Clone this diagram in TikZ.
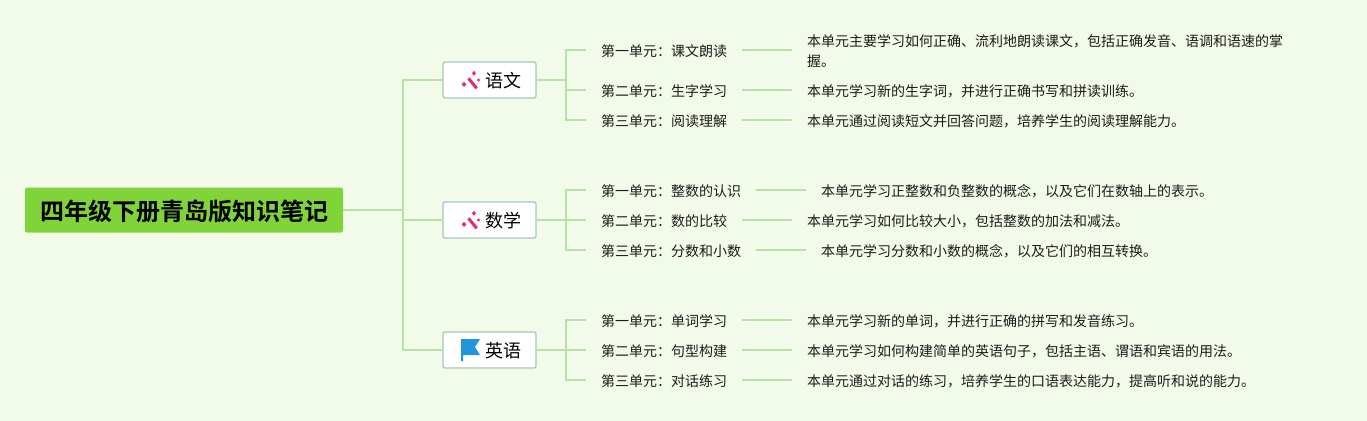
\documentclass[tikz,border=0pt]{standalone}
\usepackage{fontspec}
\setmainfont{Noto Sans CJK SC}
\newfontfamily\cjkbold{Noto Sans CJK SC Bold}
\definecolor{bgc}{HTML}{F2FBE9}
\definecolor{linec}{HTML}{B5E3A6}
\definecolor{rootc}{HTML}{80D43A}
\definecolor{boxline}{HTML}{A4C9BC}
\definecolor{wandc}{HTML}{E8286F}
\definecolor{flagc}{HTML}{2196DD}
\definecolor{txtc}{HTML}{1C1C1C}
\tikzset{
 conn/.style={draw=linec,line width=1.7pt},
 rootbox/.style={fill=rootc,rounded corners=2pt,minimum width=318pt,minimum height=45pt,inner sep=0pt,text height=21.2pt,text depth=0pt,font=\cjkbold\fontsize{24}{28}\selectfont,text=black},
 subject/.style={draw=boxline,line width=1.3pt,fill=white,rounded corners=2pt,minimum width=93pt,minimum height=36pt,inner sep=0pt,text height=15.8pt,text depth=0pt,font=\fontsize{18}{22}\selectfont,text=black},
 unit/.style={anchor=west,inner xsep=15pt,inner ysep=0pt,text height=13pt,text depth=0pt,font=\fontsize{14}{20}\selectfont,text=txtc},
 detail/.style={anchor=west,inner xsep=15pt,inner ysep=0pt,align=left,font=\fontsize{14}{20}\selectfont,text=txtc},
}
\begin{document}
\begin{tikzpicture}[x=1pt,y=-1pt]
\useasboundingbox (0,0) rectangle (1367,420);
\fill[bgc] (-3,-3) rectangle (1370,423);
% nodes
\node[rootbox] (root) at (184,210) {四年级下册青岛版知识笔记};
\node[subject] (yw) at (489.5,80) {\hspace*{27pt}语文};
\node[subject] (sx) at (489.5,220) {\hspace*{27pt}数学};
\node[subject] (yy) at (489.5,350) {\hspace*{27pt}英语};
\coordinate (trunk) at (403,210);
\coordinate (ywhub) at (566,80);
\coordinate (sxhub) at (566,220);
\coordinate (yyhub) at (566,350);
% units
\node[unit] (a1) at (586,50) {第一单元：课文朗读};
\node[unit] (a2) at (586,90) {第二单元：生字学习};
\node[unit] (a3) at (586,120) {第三单元：阅读理解};
\node[unit] (b1) at (586,190) {第一单元：整数的认识};
\node[unit] (b2) at (586,220) {第二单元：数的比较};
\node[unit] (b3) at (586,250) {第三单元：分数和小数};
\node[unit] (c1) at (586,320) {第一单元：单词学习};
\node[unit] (c2) at (586,350) {第二单元：句型构建};
\node[unit] (c3) at (586,380) {第三单元：对话练习};
% details
\node[detail] (d1) at (792,51.5) {本单元主要学习如何正确、流利地朗读课文，包括正确发音、语调和语速的掌\\握。};
\node[detail] (d2) at (792,91.5) {本单元学习新的生字词，并进行正确书写和拼读训练。};
\node[detail] (d3) at (792,121.5) {本单元通过阅读短文并回答问题，培养学生的阅读理解能力。};
\node[detail] (e1) at (806,191.5) {本单元学习正整数和负整数的概念，以及它们在数轴上的表示。};
\node[detail] (e2) at (792,221.5) {本单元学习如何比较大小，包括整数的加法和减法。};
\node[detail] (e3) at (806,251.5) {本单元学习分数和小数的概念，以及它们的相互转换。};
\node[detail] (f1) at (792,321.5) {本单元学习新的单词，并进行正确的拼写和发音练习。};
\node[detail] (f2) at (792,351.5) {本单元学习如何构建简单的英语句子，包括主语、谓语和宾语的用法。};
\node[detail] (f3) at (792,381.5) {本单元通过对话的练习，培养学生的口语表达能力，提高听和说的能力。};
% connectors
\draw[conn] (root.east) -- (trunk);
\draw[conn] (trunk) |- (yw.west);
\draw[conn] (trunk) |- (sx.west);
\draw[conn] (trunk) |- (yy.west);
\draw[conn] (yw.east) -- (ywhub);
\draw[conn] (sx.east) -- (sxhub);
\draw[conn] (yy.east) -- (yyhub);
\foreach \h/\n in {ywhub/a1,ywhub/a2,ywhub/a3,sxhub/b1,sxhub/b2,sxhub/b3,yyhub/c1,yyhub/c2,yyhub/c3}{
 \draw[conn] (\h) |- (\n.west);
}
\foreach \u/\d in {a1/d1,a2/d2,a3/d3,b1/e1,b2/e2,b3/e3,c1/f1,c2/f2,c3/f3}{
 \draw[conn] (\u.east) -- (\u.east -| \d.west);
}
% icons
\foreach \n in {yw,sx}{
\begin{scope}[shift={(\n.center)}]
 \draw[wandc,line width=3pt] (-21,-1.7) -- (-12.8,8.3);
 \fill[wandc] (-28,4.3) -- (-25.5,1.8) -- (-23,4.3) -- (-25.5,6.8) -- cycle;
 \fill[wandc] (-17.5,-6.7) -- (-15.5,-9.2) -- (-13.5,-6.7) -- (-15.5,-4.2) -- cycle;
 \fill[wandc] (-12.5,0) -- (-11,-1.7) -- (-9.5,0) -- (-11,1.7) -- cycle;
\end{scope}
}
\begin{scope}[shift={(yy.center)}]
 \fill[flagc] (-28.5,-11) -- (-9.5,-11) -- (-14.5,-3) -- (-9.5,5) -- (-26.5,5) -- (-26.5,11) -- (-28.5,11) -- cycle;
\end{scope}
\end{tikzpicture}
\end{document}
